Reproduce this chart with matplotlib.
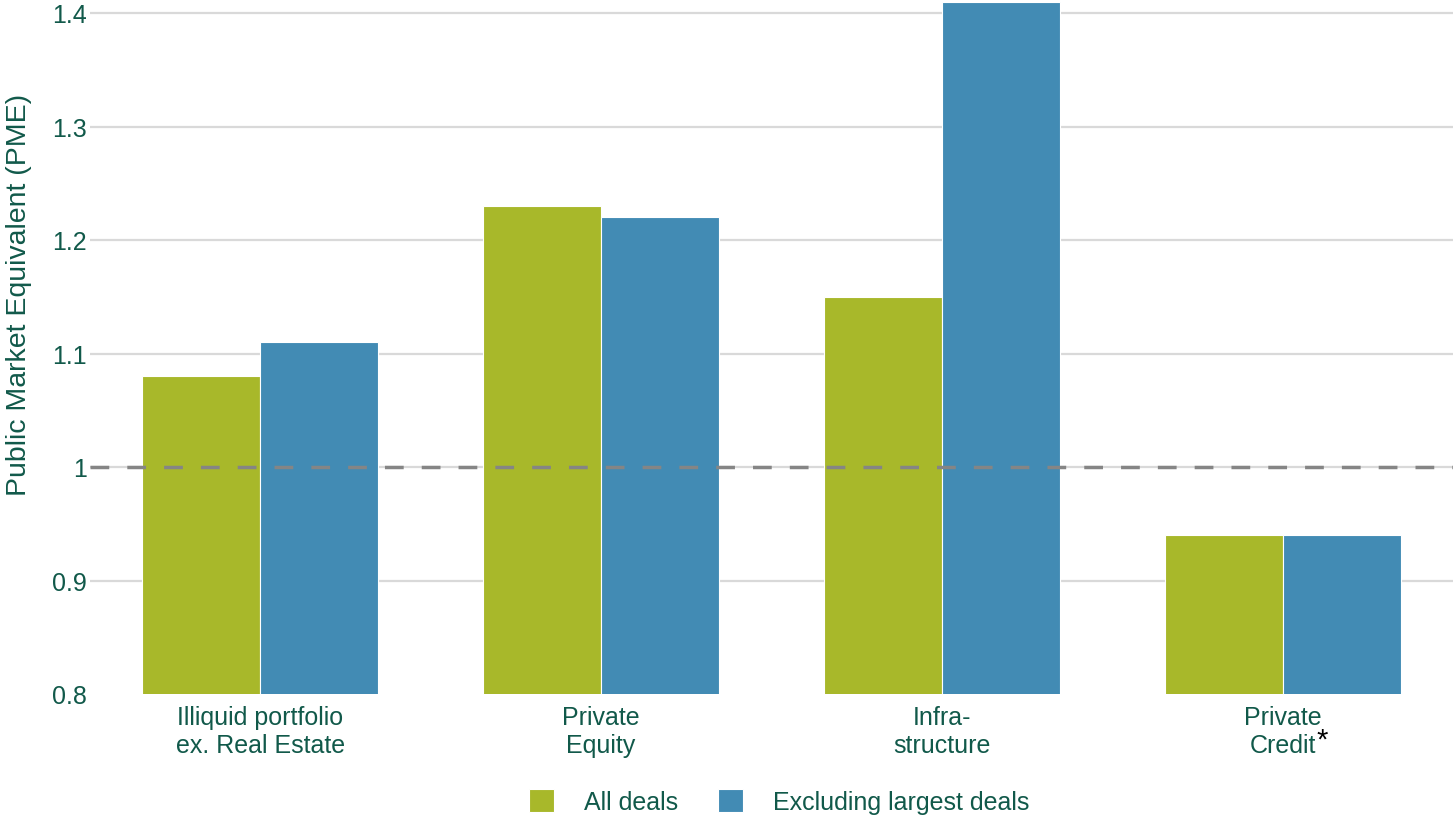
import numpy as np
import matplotlib
matplotlib.use('Agg')
import matplotlib.pyplot as plt
from matplotlib.ticker import FuncFormatter

plt.rcParams['font.family'] = ['Liberation Sans', 'DejaVu Sans']

categories = ['Illiquid portfolio\nex. Real Estate', 'Private\nEquity',
              'Infra-\nstructure', 'Private\nCredit']
all_deals = [1.08, 1.23, 1.15, 0.94]
excl_largest = [1.11, 1.22, 1.41, 0.94]
series_names = ['All deals', 'Excluding largest deals']
yticks = [0.8, 0.9, 1.0, 1.1, 1.2, 1.3, 1.4]

green = '#a8b82a'
blue = '#428bb4'
txt = '#11594a'

fig = plt.figure(figsize=(14.53, 8.2), dpi=100)
ax = fig.add_axes([90/1453, 125/820, 1 - 90/1453, 695/820])

x = np.arange(len(categories))
w = 0.346
ax.bar(x - w/2, all_deals, w, color=green, edgecolor='white',
       linewidth=0.8, label=series_names[0], zorder=2)
ax.bar(x + w/2, excl_largest, w, color=blue, edgecolor='white',
       linewidth=0.8, label=series_names[1], zorder=2)

# parity line at PME = 1
ax.axhline(1.0, color='#858585', lw=2.5, dashes=(5.4, 5.2), zorder=3)

ax.set_xlim(-0.5, 3.5)
ax.set_ylim(0.8, 1.4 + 14/1135)
ax.set_yticks(yticks)
ax.yaxis.set_major_formatter(FuncFormatter(lambda v, p: '{:g}'.format(round(v, 2))))
ax.set_xticks(x)
ax.set_xticklabels(categories)
ax.tick_params(axis='both', length=0, labelsize=18, labelcolor=txt)
ax.tick_params(axis='y', pad=2)
ax.tick_params(axis='x', pad=8)

ax.yaxis.grid(True, color='#d9d9d9', lw=1.6, zorder=0)
ax.get_ygridlines()[0].set_visible(False)
ax.set_axisbelow(True)
for s in ax.spines.values():
    s.set_visible(False)

ax.set_ylabel('Public Market Equivalent (PME)', fontsize=20.5, color=txt)
ax.yaxis.set_label_coords(-0.0426, 0.5755)

# black footnote marker right after "Credit"
lbl = ax.get_xticklabels()[3]
ax.annotate('*', xy=(1, 0.5), xycoords=lbl, xytext=(-3.5, 4),
            textcoords='offset points', ha='left', va='top',
            fontsize=21, color='black')

fig.legend(loc='center', bbox_to_anchor=(0.536, 0.021), ncol=2,
           frameon=False, fontsize=18, labelcolor=txt,
           handlelength=1.0, handleheight=1.0, handletextpad=1.2,
           columnspacing=1.6)

fig.savefig('out.png', dpi=100)
